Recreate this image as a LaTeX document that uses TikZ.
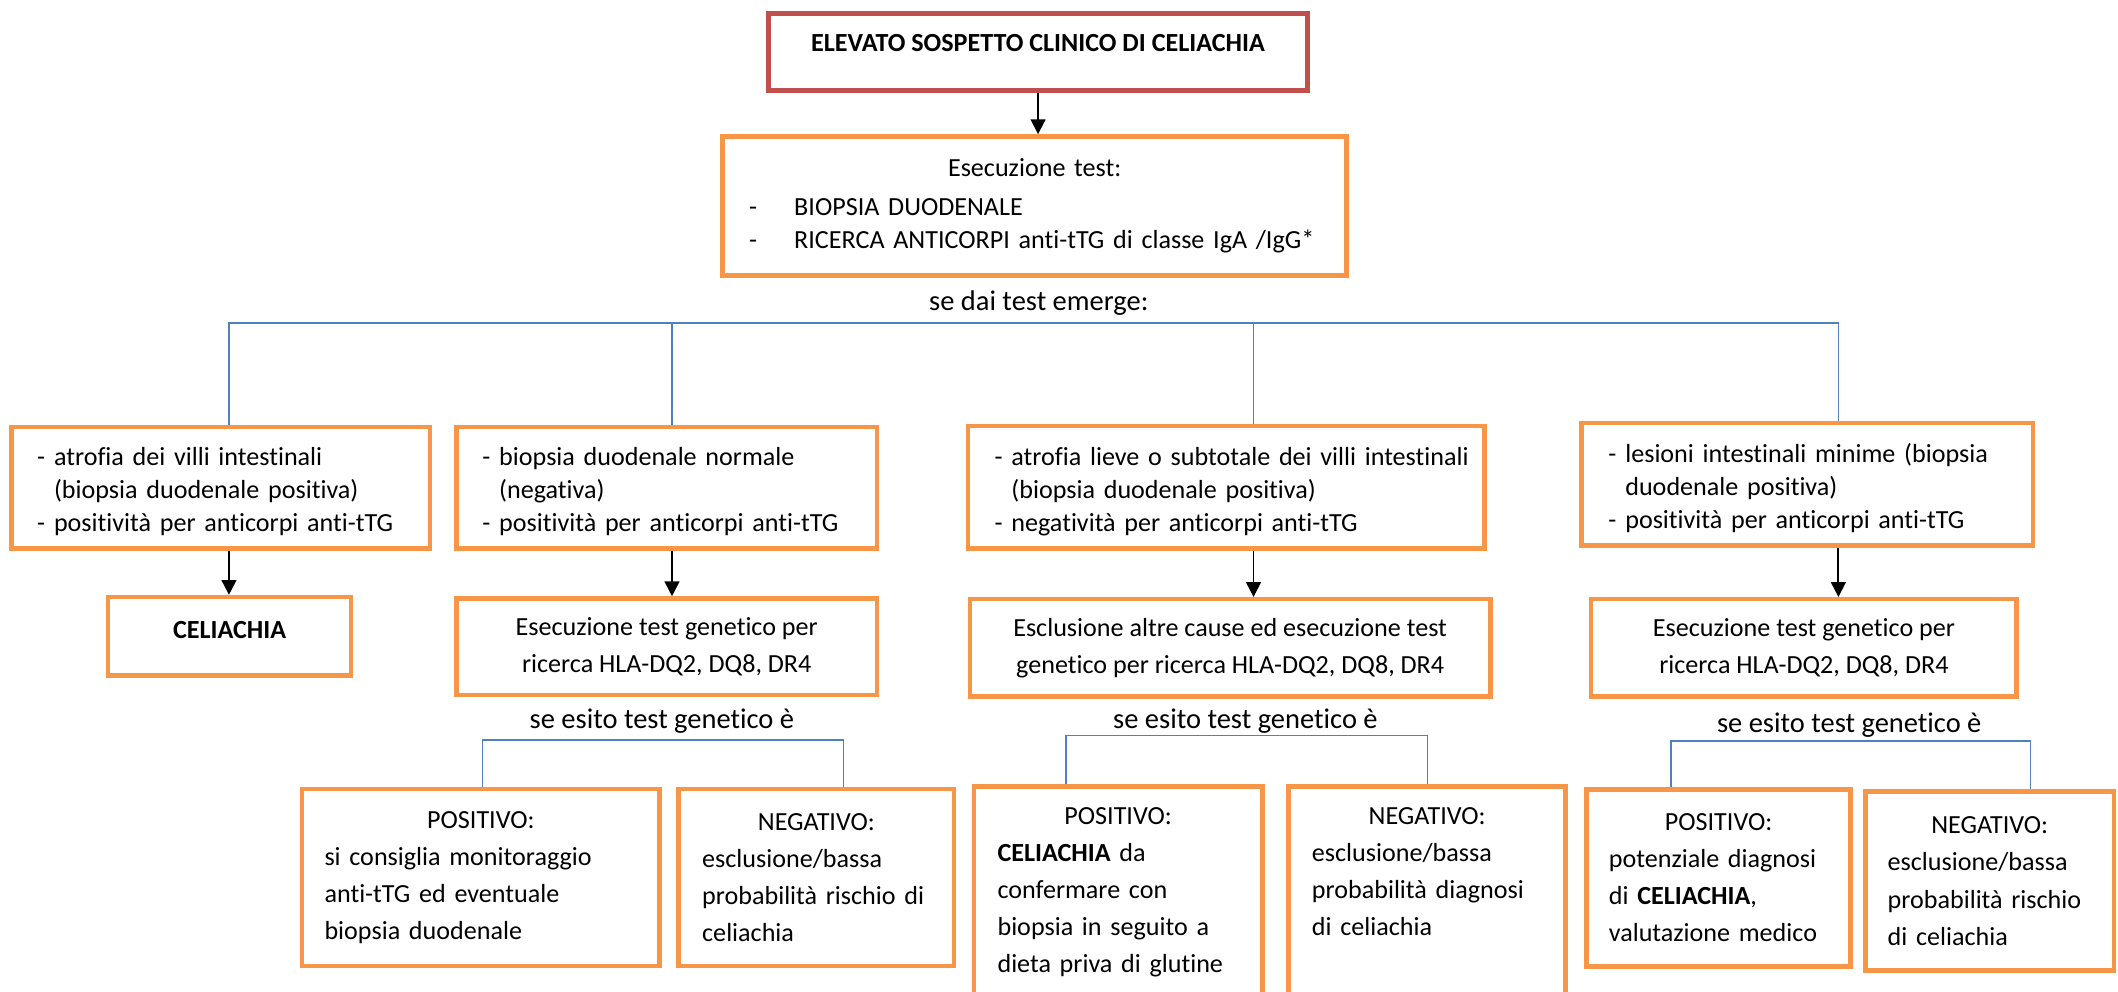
\documentclass[tikz,border=0pt]{standalone}
\usepackage{fontspec}
\setmainfont{Carlito}[Ligatures=NoCommon]
\usetikzlibrary{arrows.meta}
\definecolor{boxorange}{HTML}{F79646}
\definecolor{boxred}{HTML}{C0504D}
\definecolor{linkblue}{HTML}{4F81BD}
\newcommand{\itm}[1]{\makebox[2.5mm][l]{-}\mbox{#1}}
\newcommand{\cnt}[1]{\hspace*{2.5mm}\mbox{#1}}
\tikzset{
	obox/.style={draw=boxorange, line width=1.9pt, inner ysep=0pt, font=\fontsize{11}{13.9}\selectfont},
	upbox/.style={obox, align=left, text height=11.3pt},
	lowbox/.style={obox, align=left, inner xsep=3.3mm, font=\fontsize{11}{15.6}\selectfont},
	genbox/.style={obox, align=center, font=\fontsize{11}{15.6}\selectfont},
	tag/.style={inner sep=0pt, font=\fontsize{12}{14}\selectfont},
	link/.style={draw=linkblue, line width=0.6pt},
	arr/.style={-{Triangle[length=6.2pt,width=6.2pt]}, line width=0.8pt},
}

\begin{document}
\begin{tikzpicture}[x=0.2mm, y=-0.2mm]
			%%%%% START %%%%%
			\useasboundingbox (0,0) rectangle (1568,734);
			
			\node[draw=boxred, line width=1.9pt, minimum width=79.8mm, minimum height=11.4mm, text height=7.1pt, text depth=7.4pt, font=\bfseries\fontsize{11}{13.9}\selectfont] (top) at (768.5,38.5) {ELEVATO SOSPETTO CLINICO DI CELIACHIA};
			
			\node[obox, minimum width=92.4mm, minimum height=20.6mm, text width=84.6mm, inner xsep=3.9mm, align=left] (exec) at (766,152.5) {{\centering Esecuzione test:\par}\vspace{2.5pt}\makebox[6.7mm][l]{-}BIOPSIA DUODENALE\\\makebox[6.7mm][l]{-}RICERCA ANTICORPI anti-tTG di classe IgA /IgG*};
			
			\node[tag] (emerge) at (769,224.6) {se dai test emerge:};
			
			\node[upbox, minimum width=62mm, minimum height=18mm, text width=54.4mm, inner xsep=3.8mm] (b1) at (163.5,361) {\itm{atrofia dei villi intestinali}\\\cnt{(biopsia duodenale positiva)}\\\itm{positività per anticorpi anti-tTG}};
			\node[upbox, minimum width=62.3mm, minimum height=18mm, text width=54.6mm, inner xsep=3.84mm] (b2) at (493.6,361) {\itm{biopsia duodenale normale}\\\cnt{(negativa)}\\\itm{positività per anticorpi anti-tTG}};
			\node[upbox, minimum width=76.4mm, minimum height=18.1mm, text width=68.6mm, inner xsep=3.9mm] (b3) at (907.8,360.7) {\itm{atrofia lieve o subtotale dei villi intestinali}\\\cnt{(biopsia duodenale positiva)}\\\itm{negatività per anticorpi anti-tTG}};
			\node[upbox, minimum width=66.8mm, minimum height=18.2mm, text width=58.9mm, inner xsep=3.96mm] (b4) at (1338,358.5) {\itm{lesioni intestinali minime (biopsia}\\\cnt{duodenale positiva)}\\\itm{positività per anticorpi anti-tTG}};
			
			\node[obox, minimum width=36mm, minimum height=11.6mm, text height=7.1pt, text depth=5.2pt, font=\bfseries\fontsize{11}{13.9}\selectfont] (cel) at (170,471) {CELIACHIA};
			\node[genbox, minimum width=62.3mm, minimum height=14.3mm] (gen2) at (493.6,478.8) {Esecuzione test genetico per\\ricerca HLA-DQ2, DQ8, DR4};
			\node[genbox, minimum width=77.1mm, minimum height=14.4mm] (gen3) at (910.7,479.6) {Esclusione altre cause ed esecuzione test\\genetico per ricerca HLA-DQ2, DQ8, DR4};
			\node[genbox, minimum width=63mm, minimum height=14.4mm] (gen4) at (1335.5,479.6) {Esecuzione test genetico per\\ricerca HLA-DQ2, DQ8, DR4};
			
			\node[tag] (res2) at (490,534) {se esito test genetico è};
			\node[tag] (res3) at (922,534) {se esito test genetico è};
			\node[tag] (res4) at (1369,536.7) {se esito test genetico è};
			
			\node[lowbox, minimum width=52.9mm, minimum height=26.2mm, text width=46.3mm] (p1) at (356,649.75) {{\centering POSITIVO:\par}si consiglia monitoraggio\\anti-tTG ed eventuale\\biopsia duodenale};
			\node[lowbox, minimum width=40.8mm, minimum height=26.2mm, text width=33.8mm, inner xsep=3.5mm] (n1) at (604.35,649.75) {{\centering NEGATIVO:\par}esclusione/bassa\\probabilità rischio di\\celiachia};
			\node[lowbox, minimum width=42.7mm, minimum height=31.4mm, text width=35.7mm, inner xsep=3.5mm, text height=7.5pt, text depth=65pt] (p2) at (827.75,660.9) {{\centering POSITIVO:\par}\textbf{CELIACHIA} da\\confermare con\\biopsia in seguito a\\dieta priva di glutine};
			\node[lowbox, minimum width=41mm, minimum height=31.4mm, text width=34.1mm, inner xsep=3.46mm, text height=7.5pt, text depth=65pt] (n2) at (1056.5,660.9) {{\centering NEGATIVO:\par}esclusione/bassa\\probabilità diagnosi\\di celiachia};
			\node[lowbox, minimum width=39.1mm, minimum height=26.2mm, text width=32.5mm] (p3) at (1272.3,650) {{\centering POSITIVO:\par}potenziale diagnosi\\di \textbf{CELIACHIA},\\valutazione medico};
			\node[lowbox, minimum width=36.8mm, minimum height=26.5mm, text width=30.2mm] (n3) at (1473,652.3) {{\centering NEGATIVO:\par}esclusione/bassa\\probabilità rischio\\di celiachia};
			
			\coordinate (c1) at (169.5,239);
			\coordinate (c2) at (497.5,239);
			\coordinate (c3) at (928,239);
			\coordinate (c4) at (1361,239);
			\draw[link] (b1.north -| c1) -- (c1) -- (c4) -- (b4.north -| c4);
			\draw[link] (c2) -- (b2.north -| c2);
			\draw[link] (c3) -- (b3.north -| c3);
			
			\coordinate (k2l) at (357.4,547.8);
			\coordinate (k2r) at (624.6,547.8);
			\coordinate (k3l) at (789.3,544.6);
			\coordinate (k3r) at (1056.6,544.6);
			\coordinate (k4l) at (1237,548.6);
			\coordinate (k4r) at (1503.3,548.6);
			\draw[link] (p1.north -| k2l) -- (k2l) -- (k2r) -- (n1.north -| k2r);
			\draw[link] (p2.north -| k3l) -- (k3l) -- (k3r) -- (n2.north -| k3r);
			\draw[link] (p3.north -| k4l) -- (k4l) -- (k4r) -- (n3.north -| k4r);
			
			\draw[arr] (top.south) -- (top.south |- exec.north);
			\draw[arr] (b1.south -| c1) -- (cel.north -| c1);
			\draw[arr] (b2.south -| c2) -- (gen2.north -| c2);
			\draw[arr] (b3.south -| c3) -- (gen3.north -| c3);
			\draw[arr] (b4.south -| c4) -- (gen4.north -| c4);
			
			%%%%% END %%%%%
\end{tikzpicture}
\end{document}
